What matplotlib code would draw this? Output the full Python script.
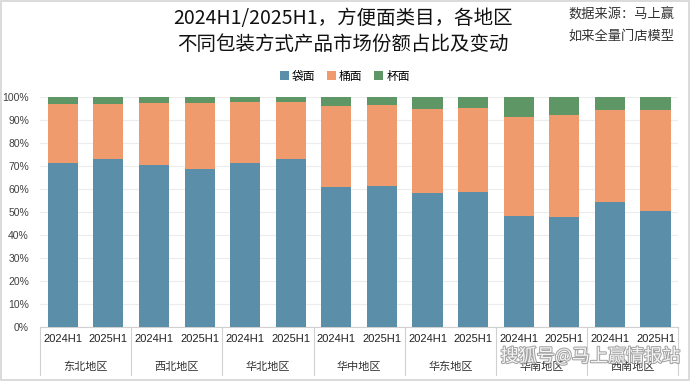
import matplotlib.pyplot as plt
import matplotlib.patheffects as pe
import numpy as np
from matplotlib.patches import Rectangle

plt.rcParams['font.family'] = ['Noto Sans CJK SC', 'DejaVu Sans']

# data (shares, %)
regions = ["东北地区", "西北地区", "华北地区", "华中地区", "华东地区", "华南地区", "西南地区"]
periods = ["2024H1", "2025H1"]
bag = [71.2, 72.9, 70.2, 68.7, 71.2, 72.8, 60.9, 61.0, 58.0, 58.4, 48.1, 47.6, 54.1, 50.3]
bucket = [25.5, 24.1, 27.2, 28.4, 26.4, 25.0, 35.2, 35.4, 36.7, 36.6, 43.2, 44.4, 40.2, 43.9]
cup = [3.3, 3.0, 2.6, 2.9, 2.4, 2.2, 3.9, 3.6, 5.3, 5.0, 8.7, 8.0, 5.7, 5.8]

c_bag = "#5b8fa9"
c_bucket = "#ef9b6d"
c_cup = "#5e9765"

fig = plt.figure(figsize=(6.9, 3.81), dpi=100)
ax = fig.add_axes([0.058, 0.1425, 0.925, 0.6035])

x = np.arange(len(bag))
bag_f = np.array(bag) / 100
bucket_f = np.array(bucket) / 100
cup_f = np.array(cup) / 100
w = 0.66
ax.bar(x, bag_f, w, color=c_bag, label="袋面", zorder=3)
ax.bar(x, bucket_f, w, bottom=bag_f, color=c_bucket, label="桶面", zorder=3)
ax.bar(x, cup_f, w, bottom=bag_f + bucket_f, color=c_cup, label="杯面", zorder=3)

ax.set_xlim(-0.5, len(bag) - 0.5)
ax.set_ylim(0, 1.0)
ax.set_yticks(np.arange(0, 1.01, 0.1))
ax.set_yticklabels([f"{int(round(v * 100))}%" for v in np.arange(0, 1.01, 0.1)],
                   fontsize=7.5, color="#404040", family="Liberation Sans")
ax.grid(axis="y", color="#ececec", linewidth=0.8, zorder=0)
for s in ["top", "right", "left"]:
    ax.spines[s].set_visible(False)
ax.spines["bottom"].set_color("#d0d0d0")
ax.tick_params(axis="y", length=0, pad=8)
ax.tick_params(axis="x", length=0, pad=5)

ax.set_xticks(x)
ax.set_xticklabels(periods * len(regions), fontsize=8, color="#222222", family="Liberation Sans")

# second level labels and separators
trans = ax.get_xaxis_transform()
for i, r in enumerate(regions):
    ax.text(2 * i + 0.5, -0.175, r, transform=trans, ha="center", va="center",
            fontsize=8, color="#333333")
for i in range(len(regions) + 1):
    ax.plot([2 * i - 0.5, 2 * i - 0.5], [0, -0.21], transform=trans, color="#d0d0d0",
            linewidth=0.8, clip_on=False)

ax.legend(loc="center", bbox_to_anchor=(0.5, 0.8), bbox_transform=fig.transFigure,
          ncol=3, frameon=False, fontsize=8.5, handlelength=0.7, handleheight=0.7,
          handletextpad=0.3, columnspacing=1.0)

fig.text(0.497, 0.952, "2024H1/2025H1，方便面类目，各地区", ha="center", va="center",
         fontsize=14, color="#111111")
fig.text(0.497, 0.884, "不同包装方式产品市场份额占比及变动", ha="center", va="center",
         fontsize=14, color="#111111")
fig.text(0.977, 0.96, "数据来源：马上赢", ha="right", va="center", fontsize=9.5, color="#333333")
fig.text(0.977, 0.905, "如来全量门店模型", ha="right", va="center", fontsize=9.5, color="#333333")

fig.text(0.985, 0.065, "搜狐号@马上赢情报站", ha="right", va="center", fontsize=13,
         color="white", alpha=0.9,
         path_effects=[pe.withStroke(linewidth=1.5, foreground="#9a9a9a")])

fig.patches.append(Rectangle((0.001, 0.002), 0.997, 0.995, transform=fig.transFigure,
                             fill=False, edgecolor="#d4d4d4", linewidth=1.2))

fig.savefig("out.png", dpi=100)
